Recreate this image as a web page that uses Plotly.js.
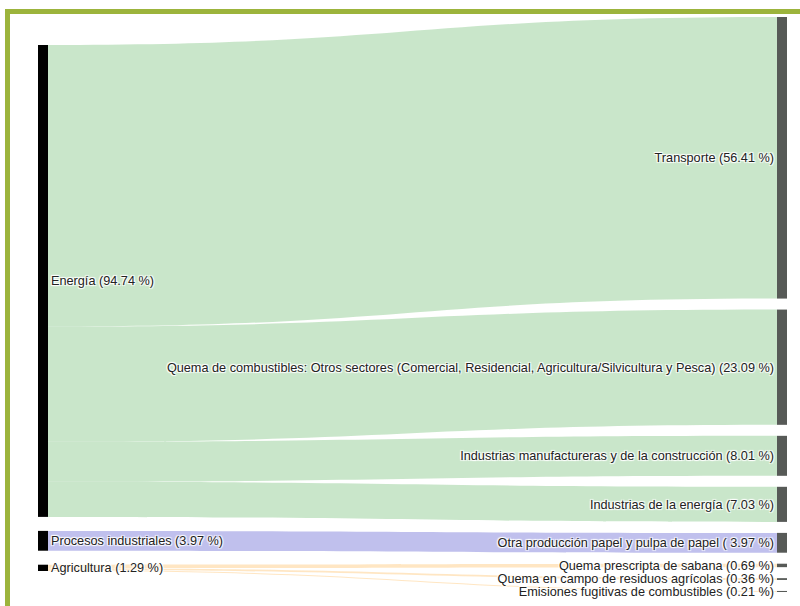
<!DOCTYPE html>
<html>
<head>
<meta charset="utf-8">
<script src="https://cdn.plot.ly/plotly-3.0.1.min.js"></script>
<style>
  html, body { margin: 0; padding: 0; background: #ffffff; width: 800px; height: 606px; overflow: hidden; }
  #frame { position: absolute; left: 5px; top: 9px; width: 900px; height: 700px;
           border-left: 5px solid #9cb43c; border-top: 5px solid #9cb43c; box-sizing: border-box; }
  #chart { position: absolute; left: 0; top: 0; width: 800px; height: 606px; }
</style>
</head>
<body>
<div id="frame"></div>
<div id="chart"></div>
<script>
// Node labels (left column: sectors, right column: subcategories)
const nodeLabels = [
  "Energía (94.74 %)",
  "Procesos industriales (3.97 %)",
  "Agricultura (1.29 %)",
  "Transporte (56.41 %)",
  "Quema de combustibles: Otros sectores (Comercial, Residencial, Agricultura/Silvicultura y Pesca) (23.09 %)",
  "Industrias manufactureras y de la construcción (8.01 %)",
  "Industrias de la energía (7.03 %)",
  "Otra producción papel y pulpa de papel ( 3.97 %)",
  "Quema prescripta de sabana (0.69 %)",
  "Quema en campo de residuos agrícolas (0.36 %)",
  "Emisiones fugitivas de combustibles (0.21 %)"
];
const nodeColors = ["#000000","#000000","#000000",
  "#575a57","#575a57","#575a57","#575a57","#575a57","#575a57","#575a57","#575a57"];

// Links
const linkSource = [0, 0, 0, 0, 1, 2, 2, 2];
const linkTarget = [3, 4, 5, 6, 7, 8, 9, 10];
const linkValue  = [56.41, 23.09, 8.01, 7.03, 3.97, 0.69, 0.36, 0.21];
const linkColors = [
  "rgba(165,214,167,0.6)", "rgba(165,214,167,0.6)", "rgba(165,214,167,0.6)",
  "rgba(165,214,167,0.6)",
  "rgba(150,150,225,0.6)",
  "rgba(255,220,170,0.7)", "rgba(255,220,170,0.7)", "rgba(255,220,170,0.7)"
];

// ---- layout settings ----
const W = 800, H = 606;
const M = { l: 38, r: 13, t: 17, b: 14 };
const PAD = 11, THICK = 10;
const LEFT_OFFSET = 28;   // left column starts this many px below the top
const LEFT_PAD = 14;      // spacing between left-column nodes

// Place the left column (sources) lower and tighter, as in the reference;
// heights follow the library's own value scale.
const plotW = W - M.l - M.r, plotH = H - M.t - M.b;
const nSrc = 3;
const srcTotals = [0, 0, 0];
const tgtTotal = linkValue.reduce((a, b) => a + b, 0);
linkSource.forEach((s, i) => { srcTotals[s] += linkValue[i]; });
const nRight = nodeLabels.length - nSrc;
const ky = (plotH - (nRight - 1) * PAD) / tgtTotal;
const nodeX = [], nodeY = [];
let cursor = LEFT_OFFSET;
for (let i = 0; i < nSrc; i++) {
  const h = srcTotals[i] * ky;
  nodeX.push((THICK / 2) / plotW);
  nodeY.push((cursor + h / 2) / plotH);
  cursor += h + LEFT_PAD;
}

const data = [{
  type: "sankey",
  orientation: "h",
  arrangement: "fixed",
  valueformat: ".2f",
  node: {
    label: nodeLabels,
    color: nodeColors,
    thickness: THICK,
    pad: PAD,
    x: nodeX,
    y: nodeY,
    line: { width: 0 }
  },
  link: {
    source: linkSource,
    target: linkTarget,
    value: linkValue,
    color: linkColors
  },
  textfont: { family: "Liberation Sans, Arial, sans-serif", size: 12.7, color: "#222222" }
}];

const layout = {
  width: W,
  height: H,
  margin: M,
  paper_bgcolor: "rgba(0,0,0,0)",
  plot_bgcolor: "rgba(0,0,0,0)",
  font: { family: "Liberation Sans, Arial, sans-serif", size: 12.7, color: "#222222" },
  showlegend: false
};

Plotly.newPlot("chart", data, layout, { displayModeBar: false, staticPlot: true });
</script>
</body>
</html>
